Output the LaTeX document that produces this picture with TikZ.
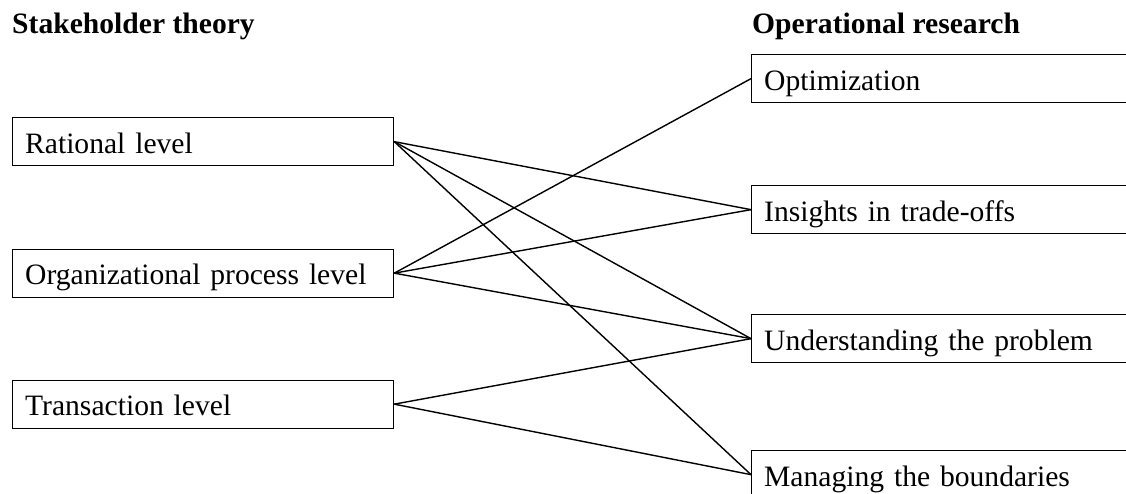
\documentclass[tikz,border=0pt]{standalone}
\usepackage{fontspec}
\setmainfont{Liberation Serif}
\begin{document}
\begin{tikzpicture}[x=1pt,y=-1pt,
  lvbox/.style={draw, line width=1.3pt, anchor=north west, minimum width=381pt, minimum height=48pt,
    inner xsep=12.5pt, inner ysep=0pt, text height=26pt, text depth=2.6pt, text width=356pt, align=left,
    font=\fontsize{29.6}{34}\selectfont},
  orbox/.style={lvbox, minimum width=400pt, text width=375pt},
  head/.style={anchor=base west, inner sep=0pt, font=\fontsize{29.6}{34}\selectfont\bfseries},
  conn/.style={line width=1.4pt}]
\clip (0,0) rectangle (1126,493);
\fill[white] (0,0) rectangle (1126,493);
\node[head] (h1) at (12,33) {Stakeholder theory};
\node[head] (h2) at (752,33) {Operational research};
\node[lvbox] (rat) at (12,117) {Rational level};
\node[lvbox] (org) at (12,248.5) {Organizational process level};
\node[lvbox] (tra) at (12,379.5) {Transaction level};
\node[orbox] (opt) at (751,54) {Optimization};
\node[orbox] (ins) at (751,185) {Insights in trade-offs};
\node[orbox] (und) at (751,314) {Understanding the problem};
\node[orbox] (man) at (751,450) {Managing the boundaries};
\draw[conn] (rat.east) -- (ins.west);
\draw[conn] (rat.east) -- (und.west);
\draw[conn] (rat.east) -- (man.west);
\draw[conn] (org.east) -- (opt.west);
\draw[conn] (org.east) -- (ins.west);
\draw[conn] (org.east) -- (und.west);
\draw[conn] (tra.east) -- (und.west);
\draw[conn] (tra.east) -- (man.west);
\end{tikzpicture}
\end{document}
